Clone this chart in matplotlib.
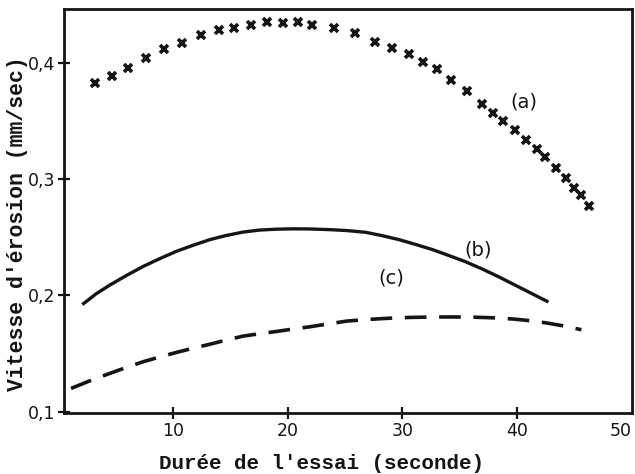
import matplotlib.pyplot as plt
from matplotlib.ticker import FuncFormatter

# Courbe (a) : points en croix
t_a = [3.2, 4.7, 6.1, 7.6, 9.2, 10.8, 12.4, 14.0, 15.3, 16.8, 18.2, 19.6,
       20.9, 22.1, 24.0, 25.9, 27.6, 29.1, 30.6, 31.8, 33.0, 34.2, 35.6,
       36.9, 37.9, 38.8, 39.8, 40.8, 41.7, 42.4, 43.4, 44.3, 45.0, 45.6, 46.3]
v_a = [0.383, 0.389, 0.396, 0.404, 0.412, 0.417, 0.424, 0.428, 0.430, 0.433,
       0.435, 0.434, 0.435, 0.433, 0.430, 0.426, 0.418, 0.413, 0.408, 0.401,
       0.395, 0.385, 0.376, 0.365, 0.357, 0.350, 0.342, 0.334, 0.326, 0.319,
       0.310, 0.301, 0.292, 0.286, 0.277]

# Courbe (b) : trait plein
t_b = [2.2, 3.3, 4.5, 5.9, 7.4, 8.8, 10.3, 11.7, 13.2, 14.6, 16.1, 17.5,
       19.0, 20.5, 21.9, 23.9, 25.3, 26.8, 28.2, 29.7, 31.1, 32.6, 34.0,
       35.5, 36.9, 38.4, 39.8, 41.3, 42.6]
v_b = [0.193, 0.2015, 0.209, 0.217, 0.225, 0.2315, 0.238, 0.243, 0.248,
       0.2515, 0.2545, 0.2562, 0.257, 0.2573, 0.2572, 0.2565, 0.2557, 0.2543,
       0.2515, 0.248, 0.2440, 0.2395, 0.2345, 0.229, 0.223, 0.216, 0.209,
       0.2015, 0.195]

# Courbe (c) : tirets
t_c = [1.1, 2.8, 4.5, 5.9, 7.4, 8.8, 10.3, 11.7, 13.2, 14.6, 16.1, 17.5,
       19.0, 20.4, 21.9, 23.5, 25.2, 27.1, 29.0, 30.7, 32.4, 34.2, 35.9,
       37.8, 39.7, 41.2, 42.6, 44.1, 45.6]
v_c = [0.120, 0.1268, 0.133, 0.138, 0.143, 0.147, 0.151, 0.1545, 0.158,
       0.1615, 0.165, 0.167, 0.169, 0.171, 0.173, 0.1755, 0.178, 0.1794,
       0.1805, 0.1811, 0.1814, 0.1815, 0.1814, 0.1808, 0.1797, 0.1782,
       0.1763, 0.1737, 0.1705]

x_ticks = [10, 20, 30, 40, 50]
y_ticks = [0.1, 0.2, 0.3, 0.4]

ink = '#151515'
mono = ['Liberation Mono', 'DejaVu Sans Mono']


def comma(v, pos):
    # virgule decimale a la francaise
    return f"{v:.1f}".replace('.', ',')


fig = plt.figure(figsize=(6.35, 4.74), dpi=100)
ax = fig.add_axes([0.101, 0.129, 0.894, 0.852])

ax.plot(t_a, v_a, 'x', color=ink, markersize=6, markeredgewidth=2.6)
ax.plot(t_b, v_b, '-', color=ink, linewidth=2.4)
ax.plot(t_c, v_c, color=ink, linewidth=2.6, dashes=(6, 3.5))

# labels des courbes
ax.text(40.6, 0.3665, '(a)', fontsize=14, color=ink, ha='center', va='center')
ax.text(36.6, 0.2395, '(b)', fontsize=14, color=ink, ha='center', va='center')
ax.text(29.0, 0.2148, '(c)', fontsize=14, color=ink, ha='center', va='center')

ax.set_xlim(0.5, 50)
ax.set_ylim(0.099, 0.4464)
ax.set_xticks(x_ticks)
ax.set_yticks(y_ticks)
ax.yaxis.set_major_formatter(FuncFormatter(comma))
ax.tick_params(direction='inout', length=9, width=1.6, colors=ink,
               labelsize=12.5, pad=2)
# le 50 colle au coin droit
ax.get_xticklabels()[-1].set_horizontalalignment('right')
ax.xaxis.get_major_ticks()[-1].tick1line.set_visible(False)

for side in ax.spines.values():
    side.set_linewidth(2)
    side.set_color(ink)

ax.set_xlabel("Durée de l'essai (seconde)", family=mono, fontweight='bold',
              fontsize=15, color=ink)
ax.set_ylabel("Vitesse d'érosion (mm/sec)", family=mono, fontweight='bold',
              fontsize=15.5, color=ink)
ax.xaxis.set_label_coords(0.453, -0.101)
ax.yaxis.set_label_coords(-0.064, 0.468)

fig.savefig('out.png', dpi=100)
